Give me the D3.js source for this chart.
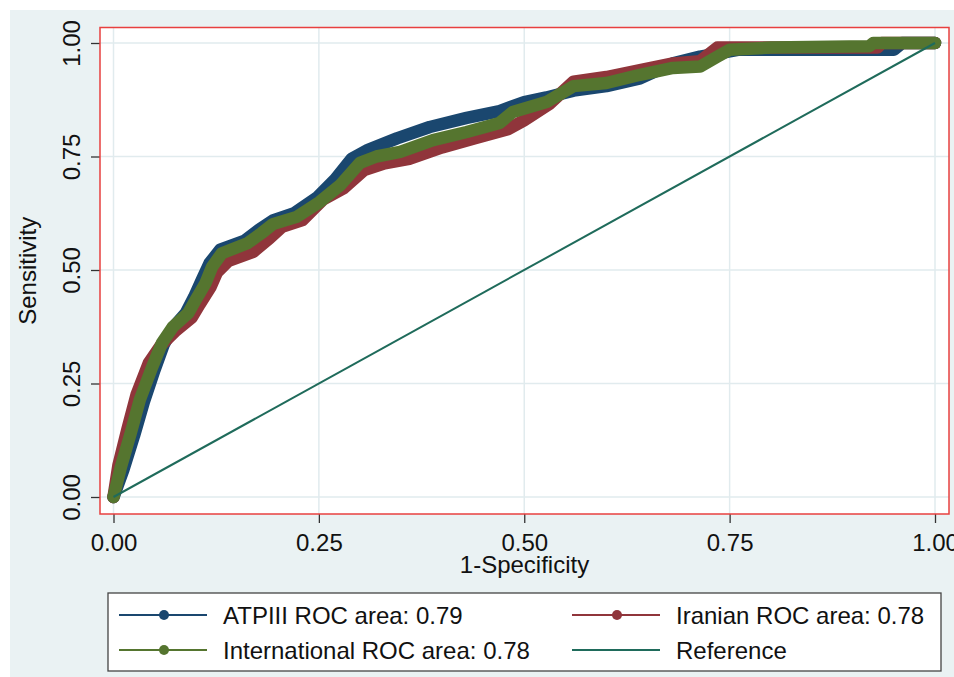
<!DOCTYPE html>
<html>
<head>
<meta charset="utf-8">
<script src="https://cdn.jsdelivr.net/npm/d3@7"></script>
<style>
  body { margin: 0; background: #fff; }
  text { font-family: "Liberation Sans", Arial, sans-serif; fill: #111; }
</style>
</head>
<body>
<div id="chart"></div>
<script>
// ROC points: [1-specificity, sensitivity]
const atpiii = [
  [0, 0], [0.012, 0.06], [0.025, 0.135], [0.037, 0.21], [0.05, 0.28], [0.061, 0.335],
  [0.072, 0.372], [0.088, 0.405], [0.098, 0.44], [0.108, 0.48], [0.117, 0.515], [0.13, 0.545],
  [0.16, 0.565], [0.178, 0.59], [0.195, 0.61], [0.22, 0.625], [0.248, 0.66], [0.27, 0.7],
  [0.29, 0.745], [0.31, 0.765], [0.345, 0.79], [0.385, 0.815], [0.43, 0.835], [0.47, 0.85],
  [0.5, 0.87], [0.527, 0.88], [0.56, 0.895], [0.6, 0.905], [0.641, 0.922], [0.681, 0.955],
  [0.714, 0.97], [0.74, 0.978], [0.76, 0.985], [0.95, 0.985], [0.96, 1], [1, 1]
];
const iranian = [
  [0, 0], [0.006, 0.07], [0.017, 0.15], [0.028, 0.225], [0.043, 0.295], [0.058, 0.335],
  [0.075, 0.365], [0.095, 0.395], [0.105, 0.425], [0.118, 0.462], [0.126, 0.495], [0.14, 0.52],
  [0.17, 0.54], [0.19, 0.57], [0.205, 0.595], [0.23, 0.61], [0.255, 0.655], [0.28, 0.68],
  [0.305, 0.72], [0.33, 0.735], [0.36, 0.745], [0.4, 0.77], [0.44, 0.79], [0.48, 0.81],
  [0.5, 0.83], [0.53, 0.865], [0.56, 0.915], [0.6, 0.925], [0.641, 0.94], [0.681, 0.955],
  [0.714, 0.96], [0.735, 0.99], [0.93, 0.99], [0.935, 1], [1, 1]
];
const international = [
  [0, 0], [0.009, 0.066], [0.021, 0.141], [0.032, 0.214], [0.047, 0.286], [0.059, 0.339],
  [0.072, 0.374], [0.091, 0.405], [0.1, 0.434], [0.112, 0.471], [0.12, 0.507], [0.132, 0.537],
  [0.163, 0.559], [0.18, 0.581], [0.194, 0.601], [0.223, 0.617], [0.251, 0.65], [0.276, 0.687],
  [0.3, 0.736], [0.32, 0.75], [0.349, 0.76], [0.389, 0.786], [0.43, 0.804], [0.47, 0.824],
  [0.486, 0.848], [0.527, 0.87], [0.56, 0.905], [0.6, 0.912], [0.641, 0.93], [0.681, 0.945],
  [0.714, 0.948], [0.734, 0.969], [0.75, 0.985], [0.8, 0.99], [0.92, 0.993], [0.925, 1], [1, 1]
];
const reference = [[0, 0], [1, 1]];

const seriesNames = ["ATPIII ROC area: 0.79", "Iranian ROC area: 0.78", "International ROC area: 0.78", "Reference"];
const tickValues = [0, 0.25, 0.5, 0.75, 1];
const tickLabels = ["0.00", "0.25", "0.50", "0.75", "1.00"];

const width = 954, height = 677;
const colors = ["#1a476f", "#90353b", "#55752f", "#1f6b5b"];

const svg = d3.select("#chart").append("svg")
  .attr("width", width)
  .attr("height", height);

// outer graph region
svg.append("rect")
  .attr("x", 10).attr("y", 10)
  .attr("width", width - 10).attr("height", height - 10)
  .attr("fill", "#eaf2f3");

// plot region
const box = { left: 100, top: 27.5, right: 949, bottom: 514 };
svg.append("rect")
  .attr("x", box.left).attr("y", box.top)
  .attr("width", box.right - box.left).attr("height", box.bottom - box.top)
  .attr("fill", "#fff");

const x = d3.scaleLinear().domain([0, 1]).range([113.5, 935]);
const y = d3.scaleLinear().domain([0, 1]).range([497, 43]);

// grid
svg.append("g").selectAll("line.gy")
  .data(tickValues).enter().append("line")
  .attr("x1", box.left).attr("x2", box.right)
  .attr("y1", d => y(d)).attr("y2", d => y(d))
  .attr("stroke", "#e1ebee").attr("stroke-width", 1.5);
svg.append("g").selectAll("line.gx")
  .data(tickValues).enter().append("line")
  .attr("y1", box.top).attr("y2", box.bottom)
  .attr("x1", d => x(d)).attr("x2", d => x(d))
  .attr("stroke", "#e1ebee").attr("stroke-width", 1.5);

// axes
const fmt = (d, i) => tickLabels[i];
svg.append("g")
  .attr("transform", "translate(" + box.left + ",0)")
  .call(d3.axisLeft(y).tickValues(tickValues).tickFormat(fmt).tickSize(9))
  .call(g => g.select(".domain").remove())
  .call(g => g.selectAll("line").attr("stroke", "#333").attr("stroke-width", 1.3))
  .call(g => g.selectAll("text")
    .attr("x", null).attr("dy", null)
    .attr("text-anchor", "middle")
    .attr("transform", "translate(-20,0) rotate(-90)")
    .style("font-size", "24px").attr("fill", "#111"));

svg.append("g")
  .attr("transform", "translate(0," + box.bottom + ")")
  .call(d3.axisBottom(x).tickValues(tickValues).tickFormat(fmt).tickSize(9).tickPadding(11))
  .call(g => g.select(".domain").remove())
  .call(g => g.selectAll("line").attr("stroke", "#333").attr("stroke-width", 1.3))
  .call(g => g.selectAll("text").style("font-size", "24px").attr("fill", "#111"));

// axis titles
svg.append("text")
  .attr("x", (box.left + box.right) / 2).attr("y", 573)
  .attr("text-anchor", "middle")
  .style("font-size", "24px")
  .text("1-Specificity");
svg.append("text")
  .attr("transform", "translate(36," + ((box.top + box.bottom) / 2) + ") rotate(-90)")
  .attr("text-anchor", "middle")
  .style("font-size", "24px")
  .text("Sensitivity");

// curves
const line = d3.line().x(d => x(d[0])).y(d => y(d[1]));
const curves = [atpiii, iranian, international];
curves.forEach((c, i) => {
  svg.append("path")
    .attr("d", line(c))
    .attr("fill", "none")
    .attr("stroke", colors[i])
    .attr("stroke-width", 12.5)
    .attr("stroke-linejoin", "round")
    .attr("stroke-linecap", "round");
});
svg.append("path")
  .attr("d", line(reference))
  .attr("fill", "none")
  .attr("stroke", colors[3])
  .attr("stroke-width", 2);

// red plot border
svg.append("rect")
  .attr("x", box.left).attr("y", box.top)
  .attr("width", box.right - box.left).attr("height", box.bottom - box.top)
  .attr("fill", "none")
  .attr("stroke", "#e8403f").attr("stroke-width", 1.5);

// legend
svg.append("rect")
  .attr("x", 108).attr("y", 593)
  .attr("width", 833).attr("height", 78)
  .attr("fill", "#fff")
  .attr("stroke", "#444").attr("stroke-width", 1.3);

const legendPos = [[119, 615], [572, 615], [119, 650], [572, 650]];
const legend = svg.selectAll(".legend")
  .data(seriesNames).enter().append("g")
  .attr("class", "legend")
  .attr("transform", (d, i) => "translate(" + legendPos[i][0] + "," + legendPos[i][1] + ")");
legend.append("line")
  .attr("x1", 0).attr("x2", 88)
  .attr("stroke", (d, i) => colors[i]).attr("stroke-width", 2);
legend.filter((d, i) => i < 3).append("circle")
  .attr("cx", 45).attr("r", 5)
  .attr("fill", (d, i) => colors[i]);
legend.append("text")
  .attr("x", 104).attr("y", 9)
  .style("font-size", "24px")
  .text(d => d);
</script>
</body>
</html>
